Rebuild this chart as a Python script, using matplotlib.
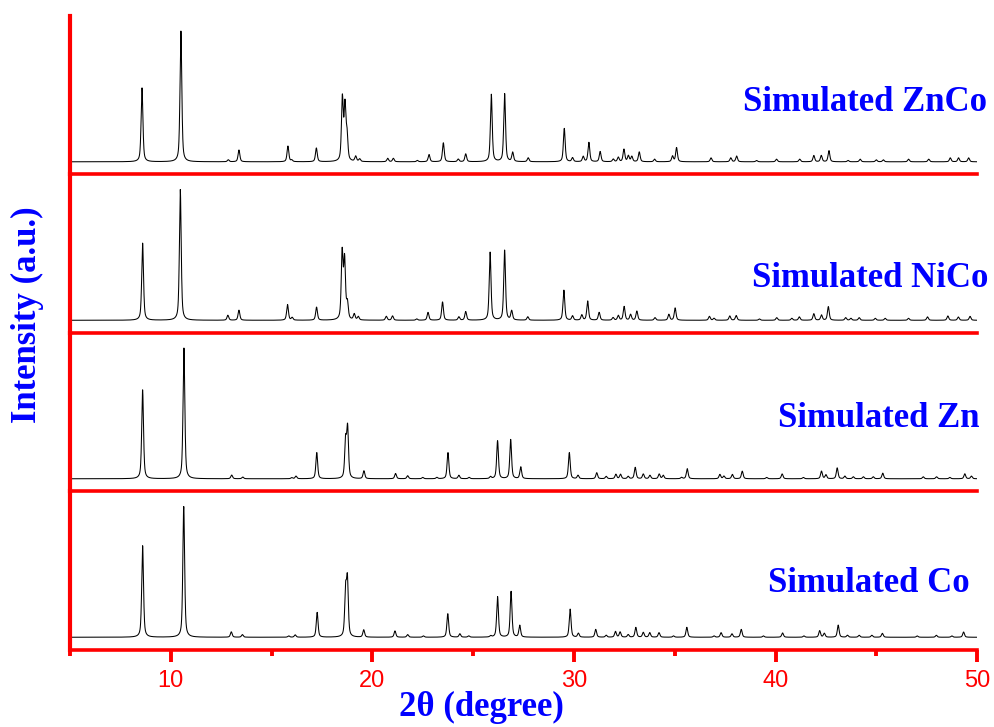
import matplotlib
matplotlib.use('Agg')
import matplotlib.pyplot as plt
import numpy as np
from matplotlib.ticker import MultipleLocator

# Peak lists (2theta in degree, relative height)
znco_pos = [8.57, 10.50, 12.85, 13.38, 15.81, 16.00, 17.22, 18.51, 18.64, 18.74, 19.17, 19.37,
            20.76, 21.04, 22.23, 22.81, 23.52, 24.26, 24.63, 25.90, 26.56, 26.96, 27.73,
            29.52, 29.93, 30.46, 30.74, 31.30, 31.95, 32.20, 32.48, 32.70, 32.87, 33.24,
            34.00, 34.89, 35.09, 36.80, 37.78, 38.07, 39.06, 40.05, 41.20, 41.90, 42.27,
            42.65, 43.60, 44.20, 45.00, 45.35, 46.60, 47.60, 48.67, 49.08, 49.58]
znco_int = [0.565, 1.0, 0.015, 0.09, 0.12, 0.012, 0.105, 0.48, 0.41, 0.19, 0.04, 0.02,
            0.026, 0.026, 0.01, 0.055, 0.145, 0.02, 0.06, 0.515, 0.52, 0.07, 0.03,
            0.255, 0.03, 0.04, 0.148, 0.078, 0.02, 0.034, 0.095, 0.045, 0.04, 0.075,
            0.02, 0.043, 0.108, 0.03, 0.03, 0.044, 0.01, 0.02, 0.02, 0.048, 0.048,
            0.085, 0.01, 0.02, 0.015, 0.015, 0.02, 0.02, 0.03, 0.03, 0.03]

nico_pos = [8.60, 10.47, 12.83, 13.38, 15.79, 16.02, 17.23, 18.50, 18.62, 18.76, 19.10, 19.30,
            20.69, 21.00, 22.20, 22.76, 23.48, 24.29, 24.63, 25.84, 26.56, 26.91, 27.71,
            29.50, 29.93, 30.39, 30.68, 31.25, 31.94, 32.20, 32.49, 32.81, 33.12, 34.02,
            34.71, 35.02, 36.72, 36.95, 37.73, 38.05, 39.20, 40.06, 40.81, 41.18, 41.90,
            42.28, 42.62, 43.48, 43.74, 44.15, 44.95, 45.44, 46.60, 47.54, 48.55, 49.07, 49.65]
nico_int = [0.59, 1.0, 0.038, 0.077, 0.12, 0.02, 0.10, 0.51, 0.45, 0.12, 0.045, 0.026,
            0.03, 0.033, 0.01, 0.06, 0.14, 0.026, 0.066, 0.52, 0.535, 0.07, 0.026,
            0.23, 0.033, 0.04, 0.147, 0.06, 0.02, 0.036, 0.105, 0.044, 0.07, 0.02,
            0.045, 0.094, 0.03, 0.015, 0.033, 0.036, 0.01, 0.02, 0.015, 0.026, 0.05,
            0.04, 0.104, 0.02, 0.015, 0.02, 0.015, 0.015, 0.015, 0.026, 0.033, 0.025, 0.03]

zn_pos = [8.60, 10.65, 13.02, 13.57, 16.00, 16.21, 17.24, 18.67, 18.77, 19.58, 21.15, 21.75,
          22.50, 23.20, 23.75, 24.29, 24.80, 25.86, 26.21, 26.86, 27.36, 29.77, 30.20,
          31.13, 31.60, 32.08, 32.31, 32.69, 33.04, 33.44, 33.77, 34.23, 34.43, 35.34,
          35.62, 37.24, 37.44, 37.86, 38.35, 39.56, 40.33, 41.38, 42.28, 42.50, 43.06,
          43.44, 43.86, 44.36, 44.85, 45.32, 47.33, 47.99, 48.65, 49.39, 49.72]
zn_int = [0.68, 1.0, 0.028, 0.013, 0.008, 0.02, 0.20, 0.28, 0.38, 0.06, 0.04, 0.023,
          0.01, 0.01, 0.20, 0.026, 0.01, 0.015, 0.29, 0.30, 0.09, 0.20, 0.026,
          0.046, 0.018, 0.034, 0.034, 0.018, 0.087, 0.036, 0.026, 0.036, 0.026, 0.01,
          0.077, 0.033, 0.02, 0.033, 0.058, 0.01, 0.037, 0.01, 0.058, 0.03, 0.083,
          0.02, 0.015, 0.015, 0.015, 0.043, 0.015, 0.015, 0.01, 0.038, 0.02]

co_pos = [8.60, 10.64, 13.00, 13.55, 15.85, 16.17, 17.26, 18.67, 18.76, 19.57, 21.12, 21.75,
          22.53, 23.74, 24.34, 24.78, 25.87, 26.21, 26.88, 27.31, 29.81, 30.22, 31.08,
          31.60, 32.06, 32.29, 32.69, 33.07, 33.44, 33.76, 34.22, 34.94, 35.60, 36.95,
          37.30, 37.84, 38.30, 39.40, 40.35, 41.41, 42.19, 42.42, 43.11, 43.57, 44.15,
          44.78, 45.30, 47.03, 47.98, 48.75, 49.33]
co_int = [0.70, 1.0, 0.041, 0.02, 0.01, 0.018, 0.19, 0.34, 0.42, 0.056, 0.048, 0.02,
          0.01, 0.18, 0.026, 0.01, 0.01, 0.31, 0.35, 0.09, 0.215, 0.03, 0.06,
          0.015, 0.044, 0.04, 0.02, 0.075, 0.037, 0.035, 0.035, 0.01, 0.076, 0.01,
          0.035, 0.026, 0.06, 0.01, 0.033, 0.01, 0.05, 0.03, 0.093, 0.015, 0.015,
          0.015, 0.03, 0.01, 0.015, 0.01, 0.04]

labels = ['Simulated ZnCo', 'Simulated NiCo', 'Simulated Zn', 'Simulated Co']
peaks = [(znco_pos, znco_int), (nico_pos, nico_int), (zn_pos, zn_int), (co_pos, co_int)]
xticks = [10, 20, 30, 40, 50]

two_theta = np.linspace(5, 50, 9001)


def pattern(pos, hts, fwhm=0.105, eta=0.55):
    # pseudo-Voigt profile for each listed reflection
    y = np.zeros_like(two_theta)
    for p, h in zip(pos, hts):
        d = (two_theta - p) / fwhm
        y += h * (eta / (1 + 4 * d ** 2) + (1 - eta) * np.exp(-4 * np.log(2) * d ** 2))
    return y / y.max()


red = '#ff0000'
blue = '#0000ff'
serif = ['Liberation Serif', 'DejaVu Serif']

fig, axes = plt.subplots(4, 1, figsize=(9.95, 7.27), dpi=100, sharex=True)
fig.subplots_adjust(left=0.0704, right=0.982, bottom=0.106, top=0.978, hspace=0)

for i, ax in enumerate(axes):
    pos, hts = peaks[i]
    ax.patch.set_visible(False)
    ax.plot(two_theta, 0.08 + 0.825 * pattern(pos, hts), color='black', lw=0.75)
    ax.set_xlim(5, 50)
    ax.set_ylim(0, 1)
    ax.set_yticks([])
    ax.spines['top'].set_visible(False)
    ax.spines['right'].set_visible(False)
    ax.spines['left'].set_color(red)
    ax.spines['left'].set_linewidth(3)
    ax.spines['bottom'].set_color(red)
    ax.spines['bottom'].set_linewidth(2.6)
    if i < 3:
        ax.tick_params(axis='x', which='both', length=0, labelbottom=False)

ax = axes[-1]
ax.set_xticks(xticks)
ax.xaxis.set_minor_locator(MultipleLocator(5))
ax.tick_params(axis='x', which='major', direction='out', length=8.5, width=2.8,
               color=red, labelcolor=red, labelsize=17, pad=6)
ax.tick_params(axis='x', which='minor', direction='out', length=4.5, width=2.8, color=red)
for t in ax.get_xticklabels():
    t.set_family(['Liberation Sans', 'DejaVu Sans'])

# panel names
name_pos = [(987, 111), (988, 287), (980, 427), (970, 592)]
for (px, py), name in zip(name_pos, labels):
    fig.text(px / 995, 1 - py / 727, name, ha='right', va='baseline', color=blue,
             fontsize=25, fontweight='bold', family=serif)

fig.text(481 / 995, 1 - 716 / 727, '2θ (degree)', ha='center', va='baseline', color=blue,
         fontsize=25, fontweight='bold', family=serif)
fig.text(27 / 995, 1 - 315 / 727, 'Intensity (a.u.)', ha='center', va='center', rotation=90,
         color=blue, fontsize=25, fontweight='bold', family=serif)

fig.savefig('out.png', dpi=100)
